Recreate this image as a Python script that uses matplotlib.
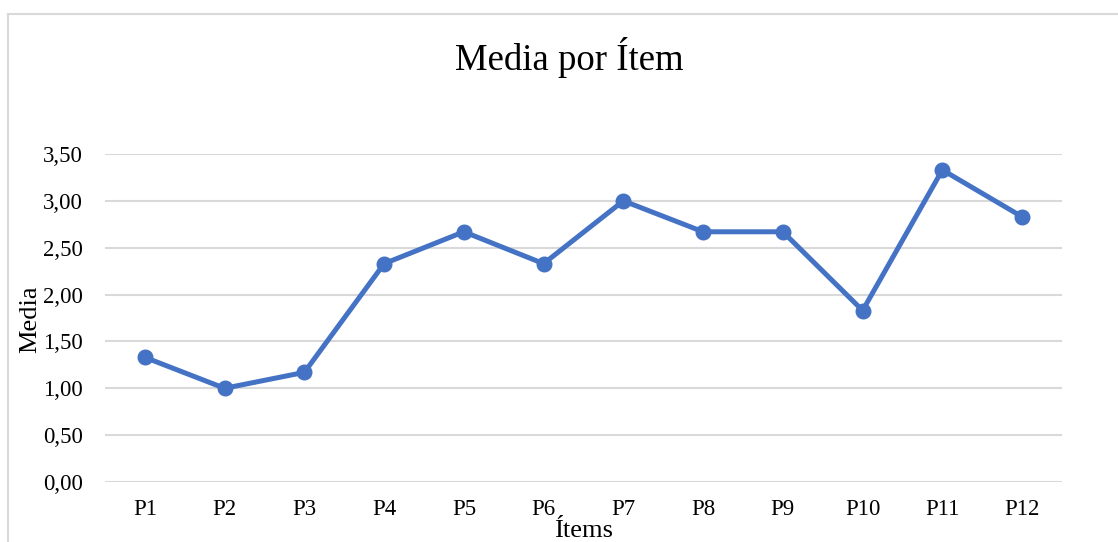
import matplotlib
matplotlib.use("Agg")
import matplotlib.pyplot as plt
from matplotlib.ticker import FuncFormatter
from matplotlib.lines import Line2D

items = ["P1", "P2", "P3", "P4", "P5", "P6", "P7", "P8", "P9", "P10", "P11", "P12"]
medias = [1.33, 1.00, 1.17, 2.33, 2.67, 2.33, 3.00, 2.67, 2.67, 1.83, 3.33, 2.83]
yticks = [0.0, 0.5, 1.0, 1.5, 2.0, 2.5, 3.0, 3.5]

plt.rcParams['font.family'] = ['Liberation Serif', 'DejaVu Serif']

W, H = 1118, 542
fig = plt.figure(figsize=(W / 100, H / 100), dpi=100)
ax = fig.add_axes([105 / W, 60 / H, (1062 - 105) / W, (482 - 154) / H])

x = list(range(len(items)))
ax.plot(x, medias, color="#4472C4", linewidth=3.6, marker="o", markersize=10.5,
        solid_capstyle="round", zorder=3)

ax.set_xlim(-0.5, len(items) - 0.5)
ax.set_ylim(0, 3.5)
ax.set_yticks(yticks)
ax.yaxis.set_major_formatter(FuncFormatter(lambda v, p: f"{v:.2f}".replace(".", ",")))
ax.set_xticks(x)
ax.set_xticklabels(items)
ax.tick_params(axis="both", length=0, labelsize=16.5, colors="black")
ax.tick_params(axis="y", pad=16)
ax.tick_params(axis="x", pad=12)
ax.grid(axis="y", color="#d9d9d9", linewidth=1.5, zorder=0)
for s in ax.spines.values():
    s.set_visible(False)

fig.text(569 / W, 1 - 58 / H, "Media por Ítem", ha="center", va="center", fontsize=26.5)
fig.text(584 / W, 1 - 531 / H, "Ítems", ha="center", va="center", fontsize=19)
fig.text(30 / W, 1 - 319 / H, "Media", ha="center", va="center", fontsize=19, rotation=90)

# chart-area border (top and left visible)
fig.add_artist(Line2D([8 / W, 1], [1 - 14 / H, 1 - 14 / H], transform=fig.transFigure,
                      color="#d9d9d9", linewidth=1.5))
fig.add_artist(Line2D([8 / W, 8 / W], [0, 1 - 14 / H], transform=fig.transFigure,
                      color="#d9d9d9", linewidth=1.5))

fig.savefig("out.png", dpi=100)
